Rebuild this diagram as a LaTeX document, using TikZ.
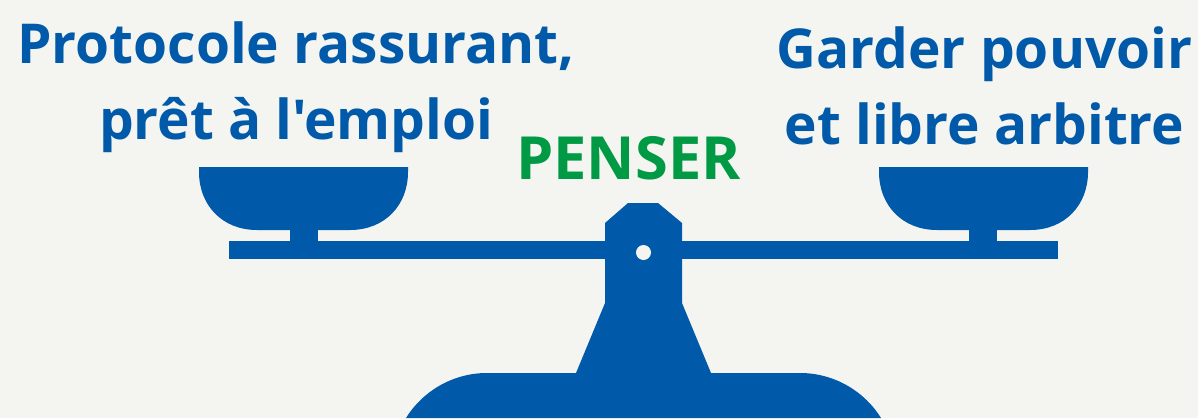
\documentclass[tikz,border=0pt]{standalone}
\usepackage{fontspec}
\newfontfamily\titlefont{Open Sans}
\definecolor{balanceblue}{HTML}{005AA9}
\definecolor{penserpgreen}{HTML}{009A44}
\definecolor{paperbg}{HTML}{F4F5F0}
\begin{document}
\begin{tikzpicture}[x=1pt,y=-1pt,line join=round,
	title/.style={text=balanceblue,anchor=base,font=\titlefont\bfseries\fontsize{55}{55}\selectfont,inner sep=0pt},
	pan/.style={fill=balanceblue}]
	\def\W{1198};
	\def\H{418};
	\fill[paperbg] (0,0) rectangle (\W,\H);
	\clip (0,0) rectangle (\W,\H);
	\node[title] (protocole) at (296,63) {Protocole rassurant,};
	\node[title] (emploi) at (296,139) {prêt à l'emploi};
	\node[title] (garder) at (984.500,68) {Garder pouvoir};
	\node[title] (arbitre) at (984.500,144) {et libre arbitre};
	\node[title,text=penserpgreen,font=\titlefont\bfseries\fontsize{59.500}{60}\selectfont] (penser) at (628.500,179) {PENSER};
	\fill[pan] (199,167) -- (408,167) -- (408,172) .. controls (408,205) and (385,230) .. (350,230) -- (257,230) .. controls (222,230) and (199,205) .. (199,172) -- cycle;
	\fill[pan] (879,167) -- (1088,167) -- (1088,172) .. controls (1088,205) and (1065,230) .. (1030,230) -- (937,230) .. controls (902,230) and (879,205) .. (879,172) -- cycle;
	\fill[pan] (290,230) rectangle (318,241);
	\fill[pan] (969,230) rectangle (997,241);
	\fill[pan] (228.500,241) rectangle (1058,259);
	\fill[pan] (605,303) -- (605,223) -- (628,203) -- (658,203) -- (682,223) -- (682,303) -- (711,373) -- (800,373) .. controls (835,373) and (865,392) .. (881,418) -- (406,418) .. controls (422,392) and (452,373) .. (487,373) -- (576,373) -- cycle;
	\fill[paperbg] (643.500,252.500) circle(7.500);
\end{tikzpicture}
\end{document}
